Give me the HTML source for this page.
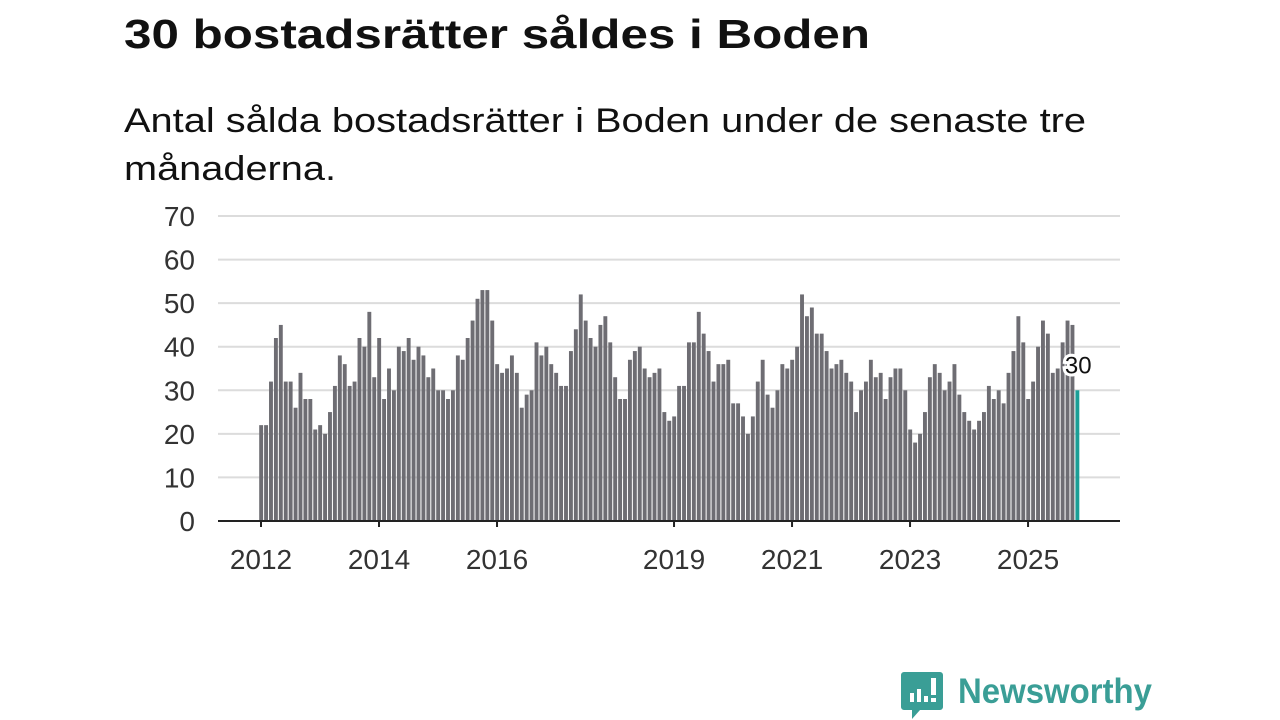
<!DOCTYPE html>
<html><head><meta charset="utf-8"><style>
html,body{margin:0;padding:0;background:#fff;width:1280px;height:720px;overflow:hidden}
svg{display:block}
text{font-family:"Liberation Sans",sans-serif}
</style></head><body>
<svg id="chart" width="1280" height="720" viewBox="0 0 1280 720">
<text x="124" y="48" font-size="41" font-weight="bold" fill="#111" textLength="746" lengthAdjust="spacingAndGlyphs">30 bostadsrätter såldes i Boden</text>
<text x="124" y="132" font-size="34" fill="#111" textLength="962" lengthAdjust="spacingAndGlyphs">Antal sålda bostadsrätter i Boden under de senaste tre</text>
<text x="124" y="180" font-size="34" fill="#111" textLength="212" lengthAdjust="spacingAndGlyphs">månaderna.</text>
<g id="grid"></g><g id="bars"></g><g id="axis"></g>
<g>
<path d="M904 672 h36 a3 3 0 0 1 3 3 v32 a3 3 0 0 1 -3 3 h-20 l-8 9 v-9 h-8 a3 3 0 0 1 -3 -3 v-32 a3 3 0 0 1 3 -3z" fill="#3a9e96"/>
<rect x="910" y="693" width="4" height="9" fill="#fff"/><rect x="917" y="689" width="4" height="13" fill="#fff"/><rect x="924" y="696" width="4" height="6" fill="#fff"/><rect x="931" y="678" width="5" height="17" fill="#fff"/><rect x="931" y="698" width="5" height="4" fill="#fff"/>
<text x="958" y="703" font-size="35" font-weight="bold" fill="#3a9e96" textLength="194" lengthAdjust="spacingAndGlyphs">Newsworthy</text>
</g>
</svg>
<script>
const values=[22,22,32,42,45,32,32,26,34,28,28,21,22,20,25,31,38,36,31,32,42,40,48,33,
42,28,35,30,40,39,42,37,40,38,33,35,30,30,28,30,38,37,42,46,51,53,53,46,
36,34,35,38,34,26,29,30,41,38,40,36,34,31,31,39,44,52,46,42,40,45,47,41,
33,28,28,37,39,40,35,33,34,35,25,23,24,31,31,41,41,48,43,39,32,36,36,37,
27,27,24,20,24,32,37,29,26,30,36,35,37,40,52,47,49,43,43,39,35,36,37,34,
32,25,30,32,37,33,34,28,33,35,35,30,21,18,20,25,33,36,34,30,32,36,29,25,
23,21,23,25,31,28,30,27,34,39,47,41,28,32,40,46,43,34,35,41,46,45,30];
const yTicks=[0,10,20,30,40,50,60,70];
const xTickLabels=["2012","2014","2016","2019","2021","2023","2025"];
const xTickIndex=[0,24,48,84,108,132,156];
const NS="http://www.w3.org/2000/svg";
const x0=261,step=4.917,y0=521,pxPer=305/70;
const xs=i=>x0+i*step, ys=v=>y0-v*pxPer;
function mk(t,a,p){const e=document.createElementNS(NS,t);for(const k in a)e.setAttribute(k,a[k]);p.appendChild(e);return e;}
const grid=document.getElementById('grid'),bars=document.getElementById('bars'),axis=document.getElementById('axis');
yTicks.forEach(v=>{
 if(v>0){const l=mk('line',{x1:218,x2:1120,y1:ys(v),y2:ys(v),stroke:'#dcdcdc','stroke-width':2},grid);
 
 }
 const t=mk('text',{x:195,y:ys(v)+10,'font-size':28,fill:'#333','text-anchor':'end'},grid);t.textContent=v;
 
 
});
values.forEach((v,i)=>{
 const last=i===values.length-1;
 const r=mk('rect',{x:xs(i)-1.8,y:ys(v),width:3.9,height:v*pxPer,fill:last?'#1a9e96':'#6e6d73'},bars);
 
 
});
const li=values.length-1;
const lab=mk('text',{x:xs(li)+1,y:ys(values[li])-17,'font-size':24,fill:'#111','text-anchor':'middle',stroke:'#fff','stroke-width':6,'paint-order':'stroke'},bars);
lab.textContent=values[li];


const ax=mk('line',{x1:218,x2:1120,y1:y0,y2:y0,stroke:'#222','stroke-width':2},axis);


xTickIndex.forEach((idx,k)=>{
 mk('line',{x1:xs(idx),x2:xs(idx),y1:y0,y2:y0+6,stroke:'#222','stroke-width':2},axis);
 const t=mk('text',{x:xs(idx),y:569,'font-size':28,fill:'#333','text-anchor':'middle'},axis);
 t.textContent=xTickLabels[k];
 
 
});
</script>
</body></html>
